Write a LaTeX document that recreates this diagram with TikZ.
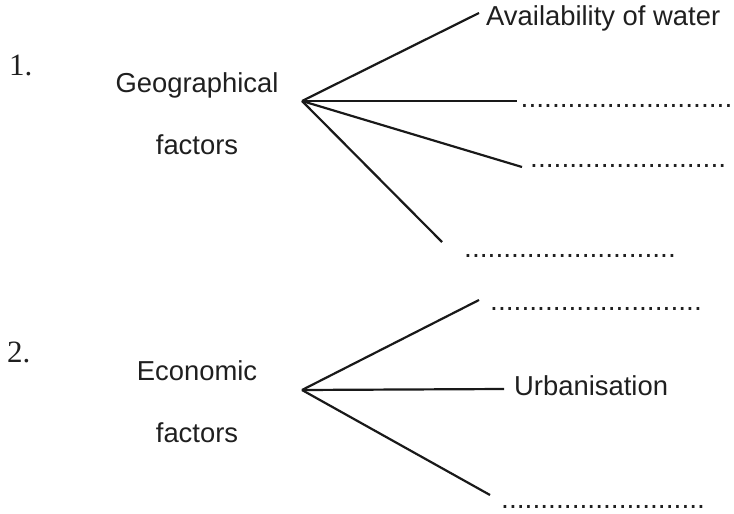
\documentclass[tikz,border=0pt]{standalone}
\usepackage{fontspec}
\setmainfont{Liberation Sans}
\newfontfamily\numfont{Liberation Serif}
\usepackage{tikz}
\usetikzlibrary{positioning}

\begin{document}
\begin{tikzpicture}[x=1pt,y=-1pt,every node/.style={inner sep=0pt,text=black!88},
       factor/.style={font=\fontsize{27.4}{62}\selectfont,align=center},
       item/.style={font=\fontsize{27.4}{30}\selectfont,anchor=base west},
       answer/.style={font=\fontsize{28.2}{30}\selectfont,anchor=base west},
       qnum/.style={font=\numfont\fontsize{31}{34}\selectfont,anchor=base west},
       branch/.style={line width=2.2pt,color=black!90}]
       \useasboundingbox (0,0) rectangle (734,514);
       % 1. geographical factors
       \node [qnum] (n_1) at (9,75) {1.};
       \node [factor] (geo) at (197,113.5) {Geographical\\factors};
       \coordinate (geo_hub) at (302,101);
       \coordinate (g_1) at (479,13);
       \coordinate (g_2) at (517,101);
       \coordinate (g_3) at (522,167);
       \coordinate (g_4) at (442,242);
       \node [item] (water) at (486,25) {Availability of water};
       \node [answer] (d_1) at (520.5,107.5) {...........................};
       \node [answer] (d_2) at (530,167.5) {.........................};
       \node [answer] (d_3) at (464,257) {...........................};
        \path[branch]
        (geo_hub) edge (g_1)
                  edge (g_2)
                  edge (g_3)
                  edge (g_4);
       % 2. economic factors
       \node [qnum] (n_2) at (7,362) {2.};
       \node [factor] (econ) at (197,401.5) {Economic\\factors};
       \coordinate (econ_hub) at (302,390);
       \coordinate (e_1) at (479,300);
       \coordinate (e_2) at (504,389);
       \coordinate (e_3) at (490,495);
       \node [answer] (d_4) at (490,310) {...........................};
       \node [item] (urban) at (514,395) {Urbanisation};
       \node [answer] (d_5) at (501,508.5) {..........................};
        \path[branch]
        (econ_hub) edge (e_1)
                   edge (e_2)
                   edge (e_3);
    \end{tikzpicture}
\end{document}
